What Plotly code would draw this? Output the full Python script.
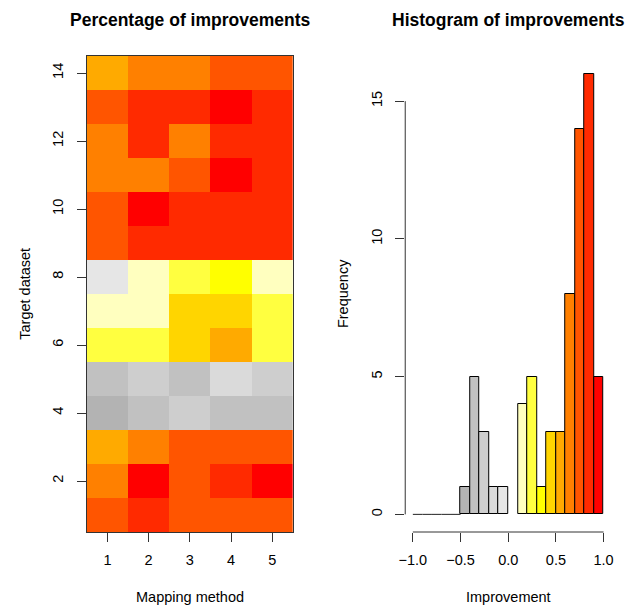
import numpy as np
import plotly.graph_objects as go

# ---------------- data ----------------
methods = [1, 2, 3, 4, 5]
datasets = list(range(1, 15))
# improvement per (dataset row, method column); row 1 = bottom
improvement = [
    [0.75, 0.85, 0.75, 0.75, 0.75],
    [0.65, 0.95, 0.75, 0.85, 0.95],
    [0.55, 0.65, 0.75, 0.75, 0.75],
    [-0.45, -0.35, -0.25, -0.35, -0.35],
    [-0.35, -0.25, -0.35, -0.15, -0.25],
    [0.25, 0.25, 0.45, 0.55, 0.25],
    [0.15, 0.15, 0.45, 0.45, 0.25],
    [-0.05, 0.15, 0.25, 0.35, 0.15],
    [0.75, 0.85, 0.85, 0.85, 0.85],
    [0.75, 0.95, 0.85, 0.85, 0.85],
    [0.65, 0.65, 0.75, 0.95, 0.85],
    [0.65, 0.85, 0.65, 0.85, 0.85],
    [0.75, 0.85, 0.85, 0.95, 0.85],
    [0.55, 0.65, 0.65, 0.75, 0.75],
]
bin_edges = [round(-1.0 + 0.1 * i, 1) for i in range(21)]
bin_colors = [
    "#A6A6A6", "#A6A6A6", "#A6A6A6", "#A6A6A6", "#A6A6A6",
    "#B3B3B3", "#C1C1C1", "#CECECE", "#DADADA", "#E6E6E6",
    "#FFFFFF",
    "#FFFFBF", "#FFFF40", "#FFFF00", "#FFD500", "#FFAA00",
    "#FF8000", "#FF5500", "#FF2A00", "#FF0000",
]
x_ticks_heat = [1, 2, 3, 4, 5]
y_ticks_heat = [2, 4, 6, 8, 10, 12, 14]
x_ticks_hist = [-1.0, -0.5, 0.0, 0.5, 1.0]
x_ticktext_hist = ["\u22121.0", "\u22120.5", "0.0", "0.5", "1.0"]
y_ticks_hist = [0, 5, 10, 15]

FONT = "Liberation Sans, Arial, Helvetica, sans-serif"
W, H = 629, 606
TICK = 14.5

# ---------------- derived ----------------
z = np.array(improvement)
lo, hi = bin_edges[0], bin_edges[-1]
colorscale = []
for i, c in enumerate(bin_colors):
    colorscale.append([(bin_edges[i] - lo) / (hi - lo), c])
    colorscale.append([(bin_edges[i + 1] - lo) / (hi - lo), c])

counts, _ = np.histogram(z.ravel(), bins=np.array(bin_edges))
centers = [(bin_edges[i] + bin_edges[i + 1]) / 2 for i in range(20)]

bx, by, bc = [], [], []
zx, zy = [], []
for i in range(20):
    if counts[i] > 0:
        bx.append(centers[i]); by.append(int(counts[i])); bc.append(bin_colors[i])
    elif bin_edges[i + 1] <= 0:
        zx += [bin_edges[i], bin_edges[i + 1], None]
        zy += [0, 0, None]

fig = go.Figure()
fig.add_trace(go.Heatmap(
    x=methods, y=datasets, z=z, zmin=lo, zmax=hi,
    colorscale=colorscale, showscale=False, xaxis="x", yaxis="y",
    hoverinfo="z",
))
fig.add_trace(go.Bar(
    x=bx, y=by, width=0.1, marker=dict(color=bc, line=dict(color="black", width=1)),
    xaxis="x2", yaxis="y2", showlegend=False,
))
fig.add_trace(go.Scatter(
    x=zx, y=zy, mode="lines", line=dict(color="#222", width=1),
    xaxis="x2", yaxis="y2", showlegend=False, hoverinfo="skip",
))

ydom = [(H - 532) / H, (H - 56) / H]
common = dict(showgrid=False, zeroline=False, ticks="outside", ticklen=9,
              tickwidth=1, tickcolor="#333",
              tickfont=dict(family=FONT, size=TICK, color="black"))

fig.update_layout(
    width=W, height=H, margin=dict(l=0, r=0, t=0, b=0),
    paper_bgcolor="white", plot_bgcolor="white",
    showlegend=False, bargap=0,
    xaxis=dict(domain=[81 / W, 290 / W], range=[0.5, 5.5], tickvals=x_ticks_heat,
               showline=True, mirror=True, linecolor="#333", linewidth=1,
               anchor="y", ticklabelstandoff=6, **common),
    yaxis=dict(domain=ydom, range=[0.5, 14.5], tickvals=y_ticks_heat, tickangle=-90,
               showline=True, mirror=True, linecolor="#333", linewidth=1,
               anchor="x", ticklabelstandoff=8, **common),
    xaxis2=dict(domain=[404 / W, 613 / W], range=[-1.08, 1.08], tickvals=x_ticks_hist,
                ticktext=x_ticktext_hist, showline=False, anchor="y2",
                ticklabelstandoff=6, **common),
    yaxis2=dict(domain=ydom, range=[-0.64, 16.64], tickvals=y_ticks_hist, tickangle=-90,
                showline=False, anchor="x2", ticklabelstandoff=7, **common),
    shapes=[
        dict(type="line", xref="x2", yref="y2 domain", x0=x_ticks_hist[0], x1=x_ticks_hist[-1],
             y0=0, y1=0, line=dict(color="#333", width=1)),
        dict(type="line", xref="x2 domain", yref="y2", x0=0, x1=0,
             y0=y_ticks_hist[0], y1=y_ticks_hist[-1], line=dict(color="#333", width=1)),
    ],
)

def ann(text, x, y, size=TICK, bold=False, angle=0):
    fig.add_annotation(text=text, x=x / W, y=1 - y / H, xref="paper", yref="paper",
                       showarrow=False, xanchor="center", yanchor="middle", textangle=angle,
                       font=dict(family=FONT, size=size, color="black",
                                 weight="bold" if bold else "normal"))

ann("Percentage of improvements", 185.5, 20, size=17.5, bold=True)
ann("Histogram of improvements", 508.5, 20, size=17.5, bold=True)
ann("Mapping method", 185.5, 597)
ann("Improvement", 508.5, 597)
ann("Target dataset", 18, 294, angle=-90)
ann("Frequency", 341, 294, angle=-90)

fig.write_html(
    "out.html",
    config={"displayModeBar": False},
    post_script="document.body.style.margin='0';document.body.style.overflow='hidden';",
)
